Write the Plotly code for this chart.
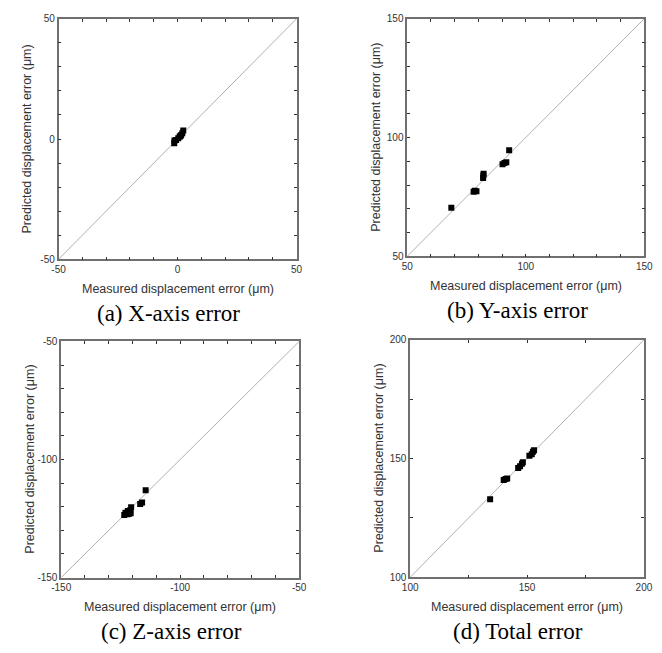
import plotly.graph_objects as go

W, H = 662, 653

# ---- data ----
a_meas = [-1.4, -1.3, -0.6, 0.3, 0.9, 1.2, 1.5, 2.0, 2.4]
a_pred = [-1.8, -0.6, -0.4, 0.3, 0.9, 1.4, 1.6, 2.4, 3.5]

b_meas = [68.6, 78.0, 78.5, 79.2, 82.0, 82.1, 82.2, 90.2, 91.0, 91.8, 93.0]
b_pred = [70.4, 77.2, 77.6, 77.4, 83.0, 84.0, 84.8, 88.8, 89.3, 89.6, 94.7]

c_meas = [-123.5, -123.0, -122.2, -121.5, -120.8, -121.0, -120.6, -122.0, -116.8, -116.0, -114.5]
c_pred = [-123.5, -122.5, -123.2, -123.0, -122.8, -121.5, -120.2, -121.8, -118.8, -118.2, -113.0]

d_meas = [134.2, 140.0, 140.8, 141.5, 146.2, 147.0, 147.8, 148.2, 151.0, 152.0, 152.5, 153.0]
d_pred = [132.9, 141.0, 141.4, 141.6, 146.0, 146.8, 147.8, 148.4, 151.2, 151.8, 152.8, 153.5]

a_range = [-50, 50]
b_range = [50, 150]
c_range = [-150, -50]
d_range = [100, 200]

a_ticks = list(range(-50, 51, 10))
b_ticks = list(range(50, 151, 10))
c_ticks = list(range(-150, -49, 10))
d_ticks = list(range(100, 201, 25))

a_labels = [-50, 0, 50]
b_labels = [50, 100, 150]
c_labels = [-150, -100, -50]
d_labels = [100, 150, 200]

captions = ["(a) X-axis error", "(b) Y-axis error", "(c) Z-axis error", "(d) Total error"]
x_title = "Measured displacement error (\u03bcm)"
y_title = "Predicted displacement error (\u03bcm)"

# ---- layout geometry (pixels: left, right, top, bottom) ----
boxes = [
    (50, 295, 13, 258),
    (409, 653, 13, 255),
    (52.7, 297.7, 341.7, 582.3),
    (412, 652.7, 340, 582),
]

panels = [
    (a_meas, a_pred, a_range, a_ticks, a_labels),
    (b_meas, b_pred, b_range, b_ticks, b_labels),
    (c_meas, c_pred, c_range, c_ticks, c_labels),
    (d_meas, d_pred, d_range, d_ticks, d_labels),
]

fig = go.Figure()
layout = dict(
    width=W, height=H,
    margin=dict(l=0, r=0, t=0, b=0),
    paper_bgcolor="white", plot_bgcolor="white",
    showlegend=False,
    font=dict(family="Liberation Sans, Arial, sans-serif", size=10, color="#333"),
)
annotations = []

tickfont = dict(family="Liberation Sans, Arial, sans-serif", size=10, color="#333")
sans = "Liberation Sans, Arial, sans-serif"
serif = "Liberation Serif, Times New Roman, serif"

for i, ((meas, pred, rng, ticks, labels), (l, r, t, b)) in enumerate(zip(panels, boxes)):
    n = "" if i == 0 else str(i + 1)
    xa, ya = "x" + n, "y" + n
    text = [str(v) if v in labels else "" for v in ticks]
    common = dict(
        range=rng, tickmode="array", tickvals=ticks, ticktext=text,
        ticks="inside", ticklen=3, tickwidth=1.2, tickcolor="#333",
        showline=True, linecolor="#707070", linewidth=1.5, mirror="ticks",
        showgrid=False, zeroline=False, tickfont=tickfont, fixedrange=True,
    )
    layout["xaxis" + n] = dict(common, domain=[l / W, r / W], anchor=ya)
    layout["yaxis" + n] = dict(common, domain=[1 - b / H, 1 - t / H], anchor=xa)

    # diagonal reference line y = x
    fig.add_trace(go.Scatter(x=rng, y=rng, mode="lines",
                             line=dict(color="#b0b0b0", width=1),
                             xaxis=xa, yaxis=ya, hoverinfo="skip"))
    fig.add_trace(go.Scatter(x=meas, y=pred, mode="markers",
                             marker=dict(symbol="square", size=6, color="black"),
                             xaxis=xa, yaxis=ya))

    # x-axis title
    annotations.append(dict(text=x_title, x=(l + r) / 2 / W, y=1 - (b + 30) / H, xref="paper", yref="paper",
                            showarrow=False, xanchor="center", yanchor="middle",
                            font=dict(family=sans, size=12.5, color="#333")))
    # y-axis title
    annotations.append(dict(text=y_title, x=(l - 33) / W, y=1 - (t + b) / 2 / H, xref="paper", yref="paper",
                            showarrow=False, textangle=-90, xanchor="center", yanchor="middle",
                            font=dict(family=sans, size=12.5, color="#333")))
    # caption
    annotations.append(dict(text=captions[i], x=((l + r) / 2 - 9) / W, y=1 - (b + 55) / H,
                            xref="paper", yref="paper",
                            showarrow=False, xanchor="center", yanchor="middle",
                            font=dict(family=serif, size=23, color="black")))

layout["annotations"] = annotations
fig.update_layout(**layout)
fig.write_html(
    "out.html",
    config={"displayModeBar": False},
    post_script="document.body.style.margin='0';document.body.style.overflow='hidden';",
)
